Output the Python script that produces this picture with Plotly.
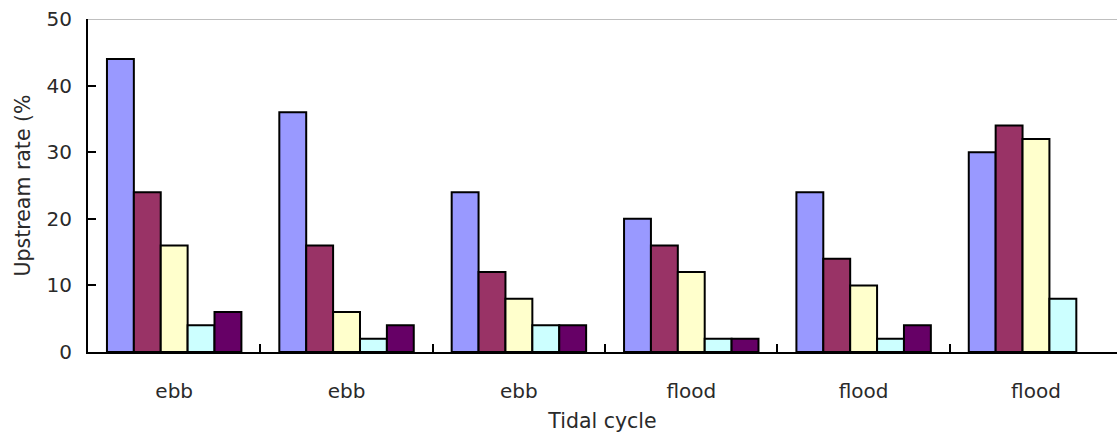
import plotly.graph_objects as go

categories = ["ebb", "ebb", "ebb", "flood", "flood", "flood"]
series_names = ["Series 1", "Series 2", "Series 3", "Series 4", "Series 5"]
s1 = [44, 36, 24, 20, 24, 30]
s2 = [24, 16, 12, 16, 14, 34]
s3 = [16, 6, 8, 12, 10, 32]
s4 = [4, 2, 4, 2, 2, 8]
s5 = [6, 4, 4, 2, 4, None]
colors = ["#9999FF", "#993366", "#FFFFCC", "#CCFFFF", "#660066"]

x_pos = list(range(1, len(categories) + 1))
boundaries = [i + 0.5 for i in x_pos[:-1]]

fig = go.Figure()
for name, vals, col in zip(series_names, [s1, s2, s3, s4, s5], colors):
    fig.add_trace(go.Bar(x=x_pos, y=vals, name=name,
                         marker=dict(color=col, line=dict(color="#000000", width=2))))

font_family = "DejaVu Sans, Arial, sans-serif"
fig.update_layout(
    width=1117, height=434,
    margin=dict(l=88, r=0, t=19, b=82),
    paper_bgcolor="white", plot_bgcolor="white",
    barmode="group", bargap=0.22, bargroupgap=0,
    showlegend=False,
    font=dict(family=font_family, size=20, color="#2a2a2a"),
)
fig.update_xaxes(
    range=[0.5, 6.47], tickmode="array", tickvals=x_pos, ticktext=categories,
    ticks="", showgrid=False, zeroline=False,
    showline=True, linecolor="#000000", linewidth=2,
    ticklabelstandoff=20,
    minor=dict(tickmode="array", tickvals=boundaries, ticks="inside",
               ticklen=8, tickwidth=2, tickcolor="#000000", showgrid=False),
    title=dict(text="Tidal cycle", standoff=12, font=dict(size=20.5)),
)
fig.update_yaxes(
    range=[0, 50], tickmode="array", tickvals=[0, 10, 20, 30, 40, 50],
    ticks="inside", ticklen=8, tickwidth=2, tickcolor="#000000",
    showgrid=False, zeroline=False,
    showline=True, linecolor="#000000", linewidth=2,
    ticklabelstandoff=10,
    title=dict(text="Upstream rate (%", standoff=10, font=dict(size=20.5)),
)
fig.add_shape(type="line", xref="paper", yref="y", x0=0, x1=1, y0=50, y1=50,
              line=dict(color="#808080", width=1))

fig.write_html("out.html")
